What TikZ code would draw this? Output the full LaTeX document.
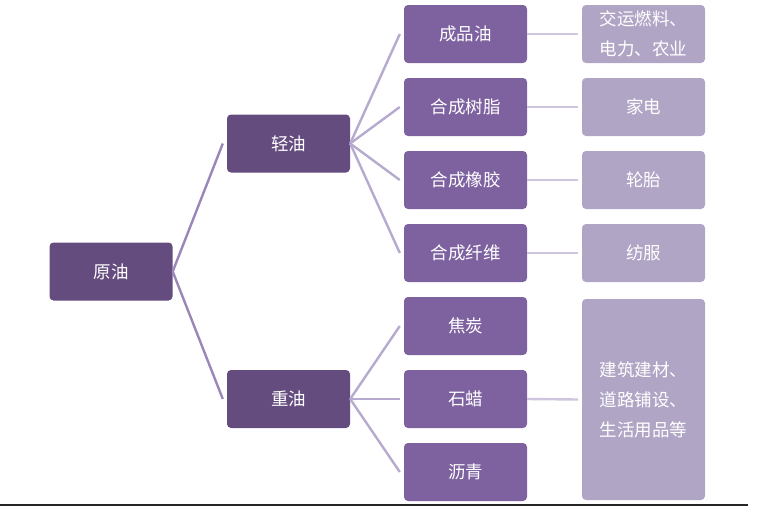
\documentclass[tikz,border=0pt]{standalone}
\usepackage{fontspec}
\setmainfont{Noto Sans CJK SC}
\begin{document}
\begin{tikzpicture}[x=1pt,y=-1pt,
  box/.style={rounded corners=4pt,text=white,minimum width=123pt,minimum height=58pt,inner sep=0pt,font=\fontsize{17.5}{30}\selectfont,align=center},
  lvl1/.style={box,fill=dark1},
  lvl2/.style={box,fill=mid2},
  lvl3/.style={box,fill=light3},
  conA/.style={draw=lineA,line width=2.4pt},
  conB/.style={draw=lineB,line width=2.4pt},
  conC/.style={draw=lineC,line width=2.4pt}]
\definecolor{dark1}{HTML}{654C7F}
\definecolor{mid2}{HTML}{7E62A0}
\definecolor{light3}{HTML}{B1A5C6}
\definecolor{lineA}{HTML}{9A86B8}
\definecolor{lineB}{HTML}{B6AACE}
\definecolor{lineC}{HTML}{CEC5DE}
\useasboundingbox (0,0) rectangle (758,509);
\node[lvl1] (crude) at (111,271.5) {原油};
\node[lvl1] (light) at (288.5,143.5) {轻油};
\node[lvl1] (heavy) at (288.5,399) {重油};
\node[lvl2] (p1) at (465.5,34) {成品油};
\node[lvl2] (p2) at (465.5,107) {合成树脂};
\node[lvl2] (p3) at (465.5,180) {合成橡胶};
\node[lvl2] (p4) at (465.5,253) {合成纤维};
\node[lvl2] (p5) at (465.5,326) {焦炭};
\node[lvl2] (p6) at (465.5,399) {石蜡};
\node[lvl2] (p7) at (465.5,472) {沥青};
\node[lvl3] (u1) at (643.5,34) {交运燃料、\\电力、农业};
\node[lvl3] (u2) at (643.5,107) {家电};
\node[lvl3] (u3) at (643.5,180) {轮胎};
\node[lvl3] (u4) at (643.5,253) {纺服};
\node[lvl3,minimum height=201pt,align=left] (u5) at (643.5,399.5) {建筑建材、\\道路铺设、\\生活用品等};
\draw[conA] (crude.east) -- ([xshift=-4pt]light.west);
\draw[conA] (crude.east) -- ([xshift=-4pt]heavy.west);
\foreach \c in {p1,p2,p3,p4} \draw[conB] (light.east) -- ([xshift=-4pt]\c.west);
\foreach \c in {p5,p6,p7} \draw[conB] (heavy.east) -- ([xshift=-4pt]\c.west);
\draw[conC] (p1.east) -- ([xshift=-4pt]u1.west);
\draw[conC] (p2.east) -- ([xshift=-4pt]u2.west);
\draw[conC] (p3.east) -- ([xshift=-4pt]u3.west);
\draw[conC] (p4.east) -- ([xshift=-4pt]u4.west);
\draw[conC] (p6.east) -- ([xshift=-4pt]u5.west);
\coordinate (bl) at (0,505);
\coordinate (br) at (748,505);
\draw[line width=2pt,black!85] (bl) -- (br);
\end{tikzpicture}
\end{document}
